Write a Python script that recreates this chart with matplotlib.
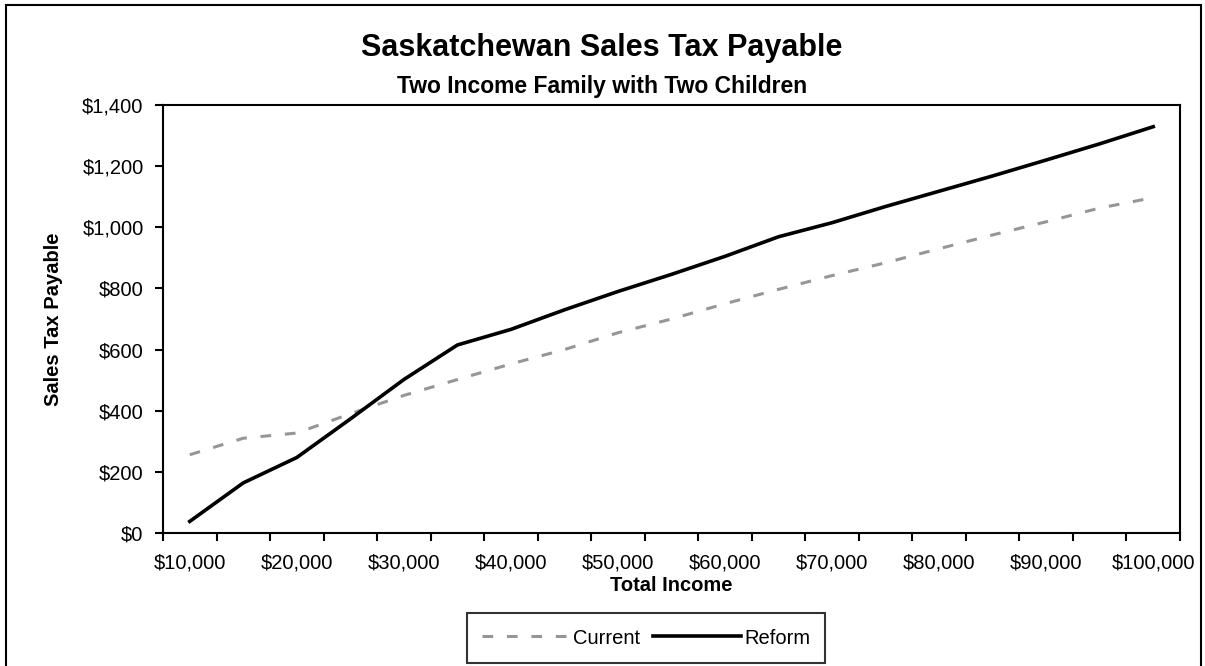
import matplotlib
matplotlib.use('Agg')
import matplotlib.pyplot as plt
from matplotlib.patches import Rectangle
from matplotlib.ticker import StrMethodFormatter

plt.rcParams['font.family'] = ['Liberation Sans', 'DejaVu Sans']

# data
income = ['$10,000', '$15,000', '$20,000', '$25,000', '$30,000', '$35,000', '$40,000',
          '$45,000', '$50,000', '$55,000', '$60,000', '$65,000', '$70,000', '$75,000',
          '$80,000', '$85,000', '$90,000', '$95,000', '$100,000']
current = [256, 310, 327, 390, 450, 502, 553, 600, 655, 700,
           750, 797, 842, 884, 930, 975, 1018, 1063, 1097]
reform = [38, 164, 247, 373, 502, 615, 666, 730, 790, 846,
          905, 969, 1015, 1068, 1118, 1168, 1220, 1273, 1329]

W, H = 1205, 666
fig = plt.figure(figsize=(W / 100, H / 100), dpi=100)
left, right, top, bottom = 163, 1180, 105, 533
ax = fig.add_axes([left / W, 1 - bottom / H, (right - left) / W, (bottom - top) / H])

x = range(len(income))
ax.plot(x, current, color='#969696', lw=2.2, ls=(0, (3.5, 4.5)), label='Current')
ax.plot(x, reform, color='black', lw=2.6, label='Reform')

ax.set_xlim(-0.5, len(income) - 0.5)
ax.set_ylim(0, 1400)
ax.set_yticks(range(0, 1401, 200))
ax.yaxis.set_major_formatter(StrMethodFormatter('${x:,.0f}'))

# tick marks sit between categories, every other category gets a label
ax.set_xticks([i - 0.5 for i in range(len(income) + 1)])
ax.set_xticklabels([])
ax.set_xticks(list(x)[::2], minor=True)
ax.set_xticklabels(income[::2], minor=True)
ax.tick_params(axis='x', which='minor', length=0, pad=15)
ax.tick_params(axis='both', which='major', length=6, width=1.5, direction='out')
ax.tick_params(axis='y', pad=8)
ax.tick_params(which='both', labelsize=14.5)

for s in ax.spines.values():
    s.set_linewidth(1.5)

ax.set_xlabel('Total Income', fontsize=14.5, fontweight='bold', labelpad=2)
ax.set_ylabel('Sales Tax Payable', fontsize=14.5, fontweight='bold', labelpad=14)

fig.text(602 / W, 1 - 48 / H, 'Saskatchewan Sales Tax Payable', ha='center', va='center',
         fontsize=22, fontweight='bold')
fig.text(602 / W, 1 - 87 / H, 'Two Income Family with Two Children', ha='center', va='center',
         fontsize=16.5, fontweight='bold')

leg = ax.legend(loc='center', bbox_to_anchor=(646 / W, 1 - 638 / H),
                bbox_transform=fig.transFigure, ncol=2, frameon=True, fancybox=False,
                fontsize=14.5, handlelength=4.4, columnspacing=0.6, handletextpad=0.15,
                borderpad=0.75, borderaxespad=0)
leg.get_frame().set_edgecolor('black')
leg.get_frame().set_linewidth(1.5)

# outer chart border
fig.patches.append(Rectangle((6 / W, -0.01), (1201 - 6) / W, 1.01 - 5 / H,
                             transform=fig.transFigure, fill=False, ec='black', lw=1.5))

fig.savefig('out.png', dpi=100)
